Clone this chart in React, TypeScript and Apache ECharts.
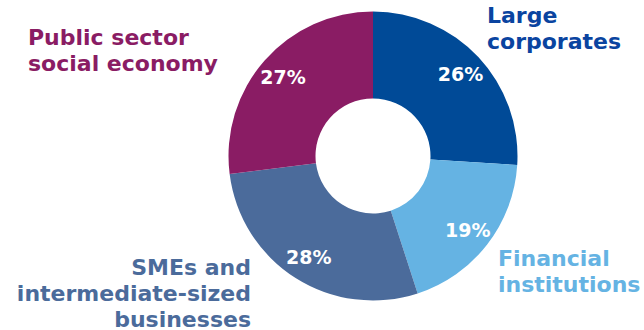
import React, { useEffect, useRef } from "react";
import * as echarts from "echarts";

const categories = ["Large\ncorporates", "Financial\ninstitutions", "SMEs and\nintermediate-sized\nbusinesses", "Public sector\nsocial economy"];
const values = [26, 19, 28, 27];
const colors = ["#004a97", "#65b3e3", "#4b6b9b", "#8a1c64"];
const labelColors = ["#0a44a0", "#65b3e3", "#4b6b9b", "#8a1c64"];

export default function App() {
  const ref = useRef<HTMLDivElement>(null);
  useEffect(() => {
    if (!ref.current) return;
    const chart = echarts.init(ref.current, undefined, { renderer: "svg" });
    const data = categories.map((name, i) => ({ name, value: values[i], itemStyle: { color: colors[i] } }));
    const font = "bold 22px 'DejaVu Sans'";
    const labelPos = [
      { x: 487, y: 2, align: "left" },
      { x: 498, y: 245, align: "left" },
      { x: 251, y: 254, align: "right" },
      { x: 28, y: 24, align: "left" },
    ];
    chart.setOption({
      animation: false,
      series: [
        {
          type: "pie",
          center: [373, 156],
          radius: [57.5, 144.5],
          startAngle: 90,
          clockwise: true,
          silent: true,
          label: { show: false },
          labelLine: { show: false },
          data,
        },
        {
          type: "pie",
          center: [373, 156],
          radius: [89, 145],
          startAngle: 90,
          clockwise: true,
          silent: true,
          itemStyle: { color: "transparent" },
          label: {
            show: true,
            position: "inside",
            formatter: (p: any) => `${p.value}%`,
            color: "#ffffff",
            fontFamily: "DejaVu Sans",
            fontWeight: "bold",
            fontSize: 19,
          },
          labelLine: { show: false },
          data: categories.map((name, i) => ({ name, value: values[i] })),
        },
      ],
      graphic: categories.map((name, i) => ({
        type: "text",
        x: labelPos[i].x,
        y: labelPos[i].y,
        silent: true,
        style: {
          text: name,
          font,
          fill: labelColors[i],
          textAlign: labelPos[i].align,
          textVerticalAlign: "top",
          lineHeight: 26,
        },
      })),
    });
    return () => chart.dispose();
  }, []);
  return <div ref={ref} style={{ position: "fixed", left: 0, top: 0, width: 644, height: 330, background: "#fff" }} />;
}
